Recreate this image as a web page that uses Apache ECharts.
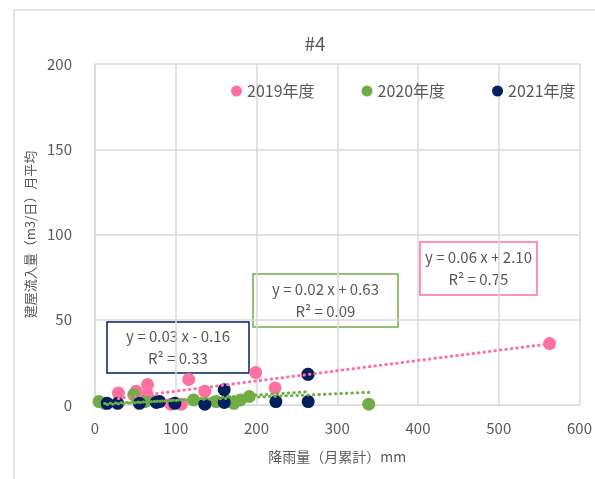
<!DOCTYPE html>
<html>
<head>
<meta charset="utf-8">
<script src="https://cdn.jsdelivr.net/npm/echarts@6/dist/echarts.min.js"></script>
<style>
  html, body { margin: 0; padding: 0; background: #fff; }
  #chart { width: 595px; height: 479px; }
</style>
</head>
<body>
<div id="chart"></div>
<script>
// Monthly rainfall (mm) vs. building inflow (m3/day, monthly mean)
const seriesNames = ['2019年度', '2020年度', '2021年度'];
const data2019 = [[29, 7], [51, 8], [65, 12], [65, 6], [94, 0.5], [107, 0.5], [116, 15], [136, 8], [199, 19], [223, 10], [263, 18], [563, 36]];
const data2020 = [[5, 2], [12, 1], [48, 6], [62, 2], [75, 2], [122, 3], [150, 2], [165, 2], [172, 1], [180, 3], [191, 5], [339, 0.5]];
const data2021 = [[15, 1], [28, 1], [55, 1], [76, 1.5], [80, 2], [99, 1], [136, 0.5], [160, 9], [160, 1.5], [224, 2], [264, 18], [264, 2]];

// Linear trend coefficients [slope, intercept, R²]
const trend2019 = [0.06, 2.10, 0.75];
const trend2020 = [0.02, 0.63, 0.09];
const trend2021 = [0.03, -0.16, 0.33];

const xTicks = [0, 100, 200, 300, 400, 500, 600];
const yTicks = [0, 50, 100, 150, 200];

const colors = { pink: '#FF6F9F', green: '#70AD47', navy: '#002060' };
const textColor = '#595959';
const font = '"Noto Sans CJK JP", "Noto Sans", sans-serif';

function trendLine(points, coef) {
  const xs = points.map(p => p[0]);
  const x0 = Math.min(...xs), x1 = Math.max(...xs);
  return [[x0, coef[0] * x0 + coef[1]], [x1, coef[0] * x1 + coef[1]]];
}
function eqText(coef) {
  const s = coef[1] < 0 ? ' - ' + Math.abs(coef[1]).toFixed(2) : ' + ' + coef[1].toFixed(2);
  return 'y = ' + coef[0].toFixed(2) + ' x' + s + '\nR² = ' + coef[2].toFixed(2);
}

function scatter(name, data, color) {
  return {
    name, type: 'scatter', data, symbol: 'circle', symbolSize: 13,
    itemStyle: { color, opacity: 1 }, z: 2
  };
}
function trend(data, coef, color) {
  return {
    type: 'line', data: trendLine(data, coef), symbol: 'none', silent: true,
    lineStyle: { color, width: 3, type: [0.5, 5], cap: 'round' }, z: 3
  };
}

const chart = echarts.init(document.getElementById('chart'));

function eqBox(x, y, w, h, coef, color) {
  return {
    type: 'group', x: x, y: y,
    children: [
      { type: 'rect', shape: { x: 0, y: 0, width: w, height: h },
        style: { fill: '#fff', stroke: color, lineWidth: 1.5 } },
      { type: 'text', x: w / 2, y: h / 2,
        style: { text: eqText(coef), fill: textColor, font: '15px ' + font,
                 align: 'center', verticalAlign: 'middle', lineHeight: 22 } }
    ]
  };
}

chart.setOption({
  animation: false,
  textStyle: { fontFamily: font },
  title: {
    text: '#4', left: 310, top: 29, textAlign: 'center',
    textStyle: { color: textColor, fontSize: 19, fontWeight: 'normal', fontFamily: font }
  },
  legend: {
    data: seriesNames, left: 226, top: 78, icon: 'circle',
    itemWidth: 11, itemHeight: 11, itemGap: 47,
    textStyle: { color: textColor, fontSize: 16, fontFamily: font }
  },
  grid: { left: 95, top: 64, width: 492, height: 341, containLabel: false },
  xAxis: {
    type: 'value', min: xTicks[0], max: xTicks[xTicks.length - 1], interval: 100,
    name: '降雨量（月累計）mm', nameLocation: 'middle', nameGap: 45,
    nameTextStyle: { color: textColor, fontSize: 14, fontFamily: font },
    axisLine: { show: true, lineStyle: { color: '#d9d9d9' } },
    axisTick: { show: false },
    axisLabel: { color: textColor, fontSize: 15, margin: 16, fontFamily: font },
    splitLine: { show: true, lineStyle: { color: '#d9d9d9', width: 1.5 } }
  },
  yAxis: {
    type: 'value', min: yTicks[0], max: yTicks[yTicks.length - 1], interval: 50,
    name: '建屋流入量（m3/日）月平均', nameLocation: 'middle', nameGap: 58,
    nameTextStyle: { color: textColor, fontSize: 13, fontFamily: font },
    axisLine: { show: true, lineStyle: { color: '#d9d9d9', width: 1.5 } },
    axisTick: { show: false },
    axisLabel: { color: textColor, fontSize: 15, margin: 23, fontFamily: font },
    splitLine: { show: true, lineStyle: { color: '#d9d9d9', width: 1.5 } }
  },
  graphic: [
    { type: 'rect', x: 0, y: 0, z: -10,
      shape: { x: 14, y: 10, width: 640, height: 540 },
      style: { fill: 'none', stroke: '#d9d9d9', lineWidth: 1.5 } },
    eqBox(420, 242, 117, 53, trend2019, colors.pink),
    eqBox(253, 274, 145, 53, trend2020, colors.green),
    eqBox(107, 322, 142, 51, trend2021, colors.navy)
  ],
  series: [
    scatter(seriesNames[0], data2019, colors.pink),
    scatter(seriesNames[1], data2020, colors.green),
    scatter(seriesNames[2], data2021, colors.navy),
    trend(data2019, trend2019, colors.pink),
    trend(data2020, trend2020, colors.green),
    trend(data2021, trend2021, colors.green)
  ]
});
</script>
</body>
</html>
